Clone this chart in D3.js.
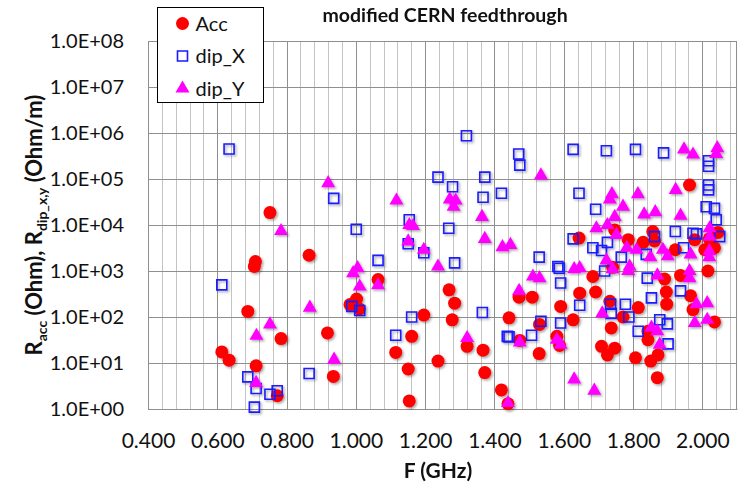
<!DOCTYPE html>
<html>
<head>
<meta charset="utf-8">
<script src="https://cdn.jsdelivr.net/npm/d3@7"></script>
<style>
  body { margin: 0; background: #fff; }
  text { font-family: Lato, "Open Sans", sans-serif; }
</style>
</head>
<body>
<div id="chart"></div>
<script>

// series values: [F (GHz), R]
var accPoints = [
  [0.613,17.4],[0.634,11.5],[0.688,132],[0.710,1600],[0.707,1260],[0.712,8.7],[0.752,18600],
  [0.784,34],[0.773,1.94],[0.865,2200],[0.918,45],[0.935,5.1],[0.983,186],[1.002,245],[1.010,150],
  [1.064,650],[1.115,17],[1.151,7.4],[1.154,1.5],[1.161,38],[1.196,110],[1.237,11],[1.269,390],
  [1.285,200],[1.278,87],[1.321,23],[1.367,19],[1.372,6.2],[1.420,2.6],[1.439,1.3],[1.442,96],
  [1.473,31],[1.471,270],[1.509,270],[1.530,69],[1.529,16],[1.580,38],[1.591,170],[1.588,24],
  [1.627,87],[1.646,330],[1.644,5200],[1.684,760],[1.692,350],[1.709,23],[1.726,15],[1.733,220],
  [1.737,58],[1.741,1200],[1.747,7800],[1.747,21],[1.771,100],[1.786,4800],[1.807,13],[1.815,160],
  [1.829,4200],[1.843,49],[1.843,32],[1.851,11],[1.857,7200],[1.872,15],[1.870,4.8],[1.862,4500],
  [1.891,670],[1.896,350],[1.897,190],[1.922,2900],[1.937,800],[1.963,74000],[1.966,290],
  [1.973,145],[1.978,4800],[2.007,2900],[2.016,1000],[2.035,3200],[2.035,78],[2.045,6900],[2.020,5000]
];

var dipXPoints = [
  [0.613,500],[0.634,450000],[0.688,5.0],[0.707,1.1],[0.712,2.8],[0.752,2.1],[0.773,2.5],
  [0.865,5.9],[0.936,38000],[0.988,170],[1.011,138],[1.001,8100],[1.064,1700],[1.115,40],
  [1.151,3900],[1.154,13000],[1.161,100],[1.196,2500],[1.237,110000],[1.268,8500],[1.279,68000],
  [1.285,1500],[1.319,870000],[1.365,125],[1.367,40000],[1.372,110000],[1.420,49000],[1.437,38],
  [1.442,37],[1.470,350000],[1.473,200000],[1.507,40],[1.529,2000],[1.534,81],[1.583,1250],
  [1.587,1150],[1.591,550],[1.591,74],[1.627,440000],[1.627,5000],[1.644,49000],[1.646,180],
  [1.684,3200],[1.692,22000],[1.709,2800],[1.718,1000],[1.723,410000],[1.726,4200],[1.735,190],
  [1.737,120],[1.766,2000],[1.778,190],[1.788,100],[1.807,440000],[1.815,49],[1.838,2300],
  [1.841,700],[1.853,260],[1.862,5600],[1.877,87],[1.888,370000],[1.899,71],[1.901,26],
  [1.922,7200],[1.937,370],[1.946,3200],[1.973,6600],[1.983,6400],[2.011,25000],[2.018,250000],
  [2.018,190000],[2.018,74000],[2.018,58000],[2.035,23000],[2.040,13000],[2.050,5600]
];

var dipYPoints = [
  [0.712,3.7],[0.713,39],[0.752,69],[0.784,7400],[0.867,160],[0.920,81000],[0.937,11.8],
  [0.992,900],[1.005,1150],[1.011,460],[1.064,490],[1.117,34000],[1.151,4400],[1.154,10000],
  [1.165,9500],[1.196,2900],[1.237,1250],[1.271,36000],[1.288,34000],[1.282,25000],[1.321,35],
  [1.364,15000],[1.372,5000],[1.423,3300],[1.446,3700],[1.439,1.35],[1.471,370],[1.473,28],
  [1.511,760],[1.530,700],[1.534,120000],[1.580,32],[1.591,25],[1.630,1100],[1.646,1150],
  [1.630,4.4],[1.688,2.5],[1.694,8500],[1.711,120],[1.723,1700],[1.726,10000],[1.733,36000],
  [1.739,47000],[1.741,1100],[1.747,15000],[1.752,6100],[1.771,25000],[1.782,3200],[1.790,1250],
  [1.786,1000],[1.810,2900],[1.814,47000],[1.832,17000],[1.850,2000],[1.853,59],[1.864,19000],
  [1.870,800],[1.870,49],[1.877,25],[1.886,2900],[1.900,2100],[1.923,58000],[1.937,16000],
  [1.947,440000],[1.963,700],[1.963,1000],[1.966,2300],[1.973,340000],[1.983,190],[1.978,74],
  [2.014,200],[2.014,87],[2.021,8500],[2.021,5600],[2.020,2700],[2.020,2000],[2.040,350000],[2.043,470000]
];

var xTicks = [0.4, 0.6, 0.8, 1.0, 1.2, 1.4, 1.6, 1.8, 2.0];
var yTicks = [1e0, 1e1, 1e2, 1e3, 1e4, 1e5, 1e6, 1e7, 1e8];
var seriesNames = ["Acc", "dip_X", "dip_Y"];

// overall layout
var W = 742, H = 488;
var margin = {top: 41, right: 5, bottom: 79, left: 148};
var width = W - margin.left - margin.right,
    height = H - margin.top - margin.bottom;

var svg = d3.select("#chart")
  .append("svg")
    .attr("width", W)
    .attr("height", H);

// soft shadow under the markers
var defs = svg.append("defs");
defs.append("filter")
    .attr("id", "shadow")
    .attr("x", "-50%").attr("y", "-50%")
    .attr("width", "200%").attr("height", "200%")
  .append("feDropShadow")
    .attr("dx", 1.5).attr("dy", 1.5)
    .attr("stdDeviation", 1)
    .attr("flood-color", "#000")
    .attr("flood-opacity", 0.35);

var g = svg.append("g")
    .attr("transform", "translate(" + margin.left + "," + margin.top + ")");

var x = d3.scaleLinear().domain([0.4, 2.1]).range([0, width]);
var y = d3.scaleLog().domain([1, 1e8]).range([height, 0]);

// minor vertical gridlines every 0.04
var minorX = d3.range(0, 43).map(function(i) { return 0.4 + i * 0.04; })
  .filter(function(v) { return v < 2.099; });
g.append("g").selectAll("line")
  .data(minorX)
  .enter().append("line")
    .attr("x1", function(d) { return Math.round(x(d)) + 0.5; })
    .attr("x2", function(d) { return Math.round(x(d)) + 0.5; })
    .attr("y1", 0).attr("y2", height)
    .attr("stroke", "#c4c4c4").attr("stroke-width", 1);

// major gridlines
g.append("g").selectAll("line")
  .data(xTicks)
  .enter().append("line")
    .attr("x1", function(d) { return Math.round(x(d)) + 0.5; })
    .attr("x2", function(d) { return Math.round(x(d)) + 0.5; })
    .attr("y1", 0).attr("y2", height)
    .attr("stroke", "#8f8f8f").attr("stroke-width", 1);
g.append("g").selectAll("line")
  .data(yTicks)
  .enter().append("line")
    .attr("x1", 0).attr("x2", width)
    .attr("y1", function(d) { return Math.round(y(d)) + 0.5; })
    .attr("y2", function(d) { return Math.round(y(d)) + 0.5; })
    .attr("stroke", "#8f8f8f").attr("stroke-width", 1);

// right border
g.append("line")
    .attr("x1", width - 0.5).attr("x2", width - 0.5)
    .attr("y1", 0).attr("y2", height)
    .attr("stroke", "#8f8f8f");

// axes
var xAxis = g.append("g")
    .attr("transform", "translate(0," + height + ")")
    .call(d3.axisBottom(x).tickValues(xTicks).tickSize(0).tickPadding(24)
      .tickFormat(d3.format(".3f")));
xAxis.select(".domain").attr("stroke", "#8f8f8f");
xAxis.selectAll("text").style("font-size", "21px").attr("fill", "#111");

var yAxis = g.append("g")
    .call(d3.axisLeft(y).tickValues(yTicks).tickSize(0).tickPadding(24)
      .tickFormat(function(d) {
        var e = Math.round(Math.log10(d));
        return "1.0E+" + (e < 10 ? "0" : "") + e;
      }));
yAxis.select(".domain").attr("stroke", "#8f8f8f");
yAxis.selectAll("text").style("font-size", "20px").attr("fill", "#111");

// markers
var markers = g.append("g").attr("filter", "url(#shadow)");

markers.selectAll(".acc")
  .data(accPoints)
  .enter().append("circle")
    .attr("class", "acc")
    .attr("cx", function(d) { return x(d[0]); })
    .attr("cy", function(d) { return y(d[1]); })
    .attr("r", 6.5)
    .attr("fill", "#ff0000");

markers.selectAll(".dipx")
  .data(dipXPoints)
  .enter().append("path")
    .attr("class", "dipx")
    .attr("d", d3.symbol().type(d3.symbolSquare).size(100))
    .attr("transform", function(d) { return "translate(" + x(d[0]) + "," + y(d[1]) + ")"; })
    .attr("fill", "none")
    .attr("stroke", "#1a1aff")
    .attr("stroke-width", 1.6);

markers.selectAll(".dipy")
  .data(dipYPoints)
  .enter().append("path")
    .attr("class", "dipy")
    .attr("d", d3.symbol().type(d3.symbolTriangle).size(85))
    .attr("transform", function(d) { return "translate(" + x(d[0]) + "," + y(d[1]) + ")"; })
    .attr("fill", "#ff00ff");

// title
svg.append("text")
    .attr("x", 445).attr("y", 22)
    .attr("text-anchor", "middle")
    .style("font-size", "19.5px").style("font-weight", "bold")
    .attr("fill", "#111")
    .text("modified CERN feedthrough");

// x label
svg.append("text")
    .attr("x", 438).attr("y", 478)
    .attr("text-anchor", "middle")
    .style("font-size", "21px").style("font-weight", "bold")
    .attr("fill", "#111")
    .text("F (GHz)");

// y label with subscripts
var yl = svg.append("text")
    .attr("transform", "translate(42,225) rotate(-90)")
    .attr("text-anchor", "middle")
    .style("font-size", "22px").style("font-weight", "bold")
    .attr("fill", "#111");
yl.append("tspan").text("R");
yl.append("tspan").attr("dy", 5).style("font-size", "14px").text("acc");
yl.append("tspan").attr("dy", -5).text(" (Ohm), R");
yl.append("tspan").attr("dy", 5).style("font-size", "14px").text("dip_x,y");
yl.append("tspan").attr("dy", -5).text(" (Ohm/m)");

// legend
var legend = svg.append("g").attr("transform", "translate(157.5,7.5)");
legend.append("rect")
    .attr("width", 106).attr("height", 95)
    .attr("fill", "#fff").attr("stroke", "#000").attr("stroke-width", 1);

var legendRows = legend.selectAll(".row")
  .data(seriesNames)
  .enter().append("g")
    .attr("class", "row")
    .attr("transform", function(d, i) { return "translate(25," + (16 + i * 32.5) + ")"; });

legendRows.filter(function(d, i) { return i === 0; })
  .append("circle").attr("r", 6.5).attr("fill", "#ff0000");
legendRows.filter(function(d, i) { return i === 1; })
  .append("path")
    .attr("d", d3.symbol().type(d3.symbolSquare).size(100))
    .attr("fill", "none").attr("stroke", "#1a1aff").attr("stroke-width", 1.6);
legendRows.filter(function(d, i) { return i === 2; })
  .append("path")
    .attr("d", d3.symbol().type(d3.symbolTriangle).size(85))
    .attr("fill", "#ff00ff");

legendRows.append("text")
    .attr("x", 13).attr("y", 7)
    .style("font-size", "20px")
    .attr("fill", "#111")
    .text(function(d) { return d; });

</script>
</body>
</html>
